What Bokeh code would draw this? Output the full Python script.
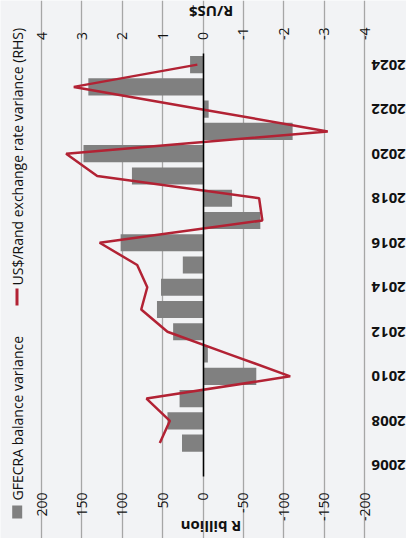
import math
import numpy as np
from bokeh.plotting import figure
from bokeh.models import (Range1d, LinearAxis, FixedTicker, Label, LabelSet,
                          ColumnDataSource, BoxAnnotation, Grid)
from bokeh.core.properties import value
from bokeh.embed import file_html
from bokeh.resources import INLINE

# ---- data ----
years = list(range(2006, 2025))
gfecra_variance = [None, 26, 44, 29, -66, -6, 37, 57, 52, 25, 102, -71, -36,
                   88, 148, -111, -7, 142, 16]          # R billion
fx_variance = [None, 1.07, 0.82, 1.40, -2.16, -0.64, 0.88, 1.53, 1.38, 1.63,
               2.56, -1.47, -1.39, 2.62, 3.39, -3.09, 0.05, 3.20, 0.14]  # R/US$
label_years = [2006, 2008, 2010, 2012, 2014, 2016, 2018, 2020, 2022, 2024]
year_labels = [str(y) for y in label_years]
r_billion_ticks = [200, 150, 100, 50, 0, -50, -100, -150, -200]
rand_ticks = [4, 3, 2, 1, 0, -1, -2, -3, -4]
rand_labels = [str(t) for t in rand_ticks]
series_names = ["GFECRA balance variance", "US$/Rand exchange rate variance (RHS)"]

# ---- layout (pixels) ----
W, H = 406, 538
PL, PR, PT, PB = 41, 42, 53, 62          # plot-area insets inside the canvas
BG = "#f2f3f5"
BAR = "#808080"
RED = "#b22234"
FONT = "Open Sans"
TXT = "#111111"

x_lo, x_hi = max(r_billion_ticks), min(r_billion_ticks)   # 200 .. -200 (reversed)
f_lo, f_hi = max(rand_ticks), min(rand_ticks)              # 4 .. -4 (reversed)
y_lo, y_hi = years[0] - 0.5, years[-1] + 0.5
pw, ph = W - PL - PR, H - PT - PB
sx = (x_hi - x_lo) / pw
sf = (f_hi - f_lo) / pw
sy = (y_hi - y_lo) / ph

src = ColumnDataSource(dict(
    year=years,
    gfecra=np.array(gfecra_variance, dtype=float),
    fx=np.array(fx_variance, dtype=float),
))

p = figure(width=W, height=H,
           x_range=Range1d(x_lo - PL * sx, x_hi + PR * sx),
           y_range=Range1d(y_lo - PB * sy, y_hi + PT * sy),
           output_backend="svg", toolbar_location=None,
           x_axis_location=None, y_axis_location=None,
           min_border=0, min_border_left=0, min_border_right=0,
           min_border_top=0, min_border_bottom=0,
           background_fill_color=BG, border_fill_color=BG,
           outline_line_color=None)
p.extra_x_ranges = {"fx": Range1d(f_lo - PL * sf, f_hi + PR * sf)}
p.xgrid.visible = False
p.ygrid.visible = False

# vertical grid lines over the plot area only
p.add_layout(Grid(dimension=0, ticker=FixedTicker(ticks=r_billion_ticks),
                  bounds=(y_lo, y_hi), grid_line_color="#a6a6a6",
                  grid_line_width=1.3))

# bottom axis (R billion)
bottom = LinearAxis(ticker=FixedTicker(ticks=r_billion_ticks), fixed_location=y_lo,
                    major_label_overrides={t: str(t) for t in r_billion_ticks})
bottom.major_tick_out = 0
bottom.major_tick_in = 0
bottom.minor_tick_out = 0
bottom.minor_tick_in = 0
bottom.axis_line_color = None
bottom.major_label_standoff = 16
bottom.major_label_text_font = FONT
bottom.major_label_text_font_size = "14px"
bottom.major_label_text_color = TXT
bottom.major_label_orientation = math.pi / 2
p.add_layout(bottom, "below")

p.hbar(y="year", left=0, right="gfecra", height=0.77, source=src,
       fill_color=BAR, line_color=None)

# zero (category) axis line
zero = LinearAxis(ticker=FixedTicker(ticks=[]), fixed_location=0,
                  bounds=(y_lo, y_hi), axis_line_color="#000000",
                  axis_line_width=1.5, major_tick_out=0, major_tick_in=0,
                  minor_tick_out=0, minor_tick_in=0,
                  major_label_text_font_size="0px")
p.add_layout(zero, "left")

p.line(x="fx", y="year", source=src, x_range_name="fx",
       line_color=RED, line_width=2.5)

# top tick labels (R/US$), rotated, placed on the secondary scale
tsrc = ColumnDataSource(dict(x=rand_ticks, text=rand_labels))
p.add_layout(LabelSet(x="x", y=H - 39.5, text="text", source=tsrc,
                      x_range_name="fx", y_units="screen", angle=math.pi / 2,
                      text_align="left", text_baseline="middle",
                      text_font=value(FONT), text_font_size="14px",
                      text_color=TXT))

# year labels on the right (upside down)
ysrc = ColumnDataSource(dict(y=label_years, text=year_labels))
p.add_layout(LabelSet(x=W - PR + 7, y="y", text="text", source=ysrc,
                      x_units="screen", angle=math.pi, text_align="right",
                      text_baseline="middle", text_font=value(FONT),
                      text_font_size="15px", text_font_style="bold",
                      text_color=TXT))

# axis titles (upside down)
p.add_layout(Label(x=PL + pw / 2 + 8, y=12, x_units="screen", y_units="screen",
                   text="R billion", angle=math.pi, text_align="center",
                   text_baseline="middle", text_font=FONT,
                   text_font_size="15px", text_font_style="bold",
                   text_color=TXT))
p.add_layout(Label(x=PL + pw / 2 + 8, y=H - 11, x_units="screen", y_units="screen",
                   text="R/US$", angle=math.pi, text_align="center",
                   text_baseline="middle", text_font=FONT,
                   text_font_size="15px", text_font_style="bold",
                   text_color=TXT))

# legend (rotated, on the left)
p.add_layout(BoxAnnotation(left=11.7, right=21.7, bottom=20, top=33,
                           left_units="screen", right_units="screen",
                           bottom_units="screen", top_units="screen",
                           fill_color=BAR, fill_alpha=1, line_color=None))
p.add_layout(Label(x=17, y=38, x_units="screen", y_units="screen",
                   text=series_names[0], angle=math.pi / 2, text_align="left",
                   text_baseline="middle", text_font=FONT,
                   text_font_size="14px", text_color=TXT))
p.add_layout(BoxAnnotation(left=15, right=18, bottom=233, top=250,
                           left_units="screen", right_units="screen",
                           bottom_units="screen", top_units="screen",
                           fill_color=RED, fill_alpha=1, line_color=None))
p.add_layout(Label(x=17, y=253, x_units="screen", y_units="screen",
                   text=series_names[1], angle=math.pi / 2, text_align="left",
                   text_baseline="middle", text_font=FONT,
                   text_font_size="14px", text_color=TXT))

open("out.html", "w").write(file_html(p, INLINE))
